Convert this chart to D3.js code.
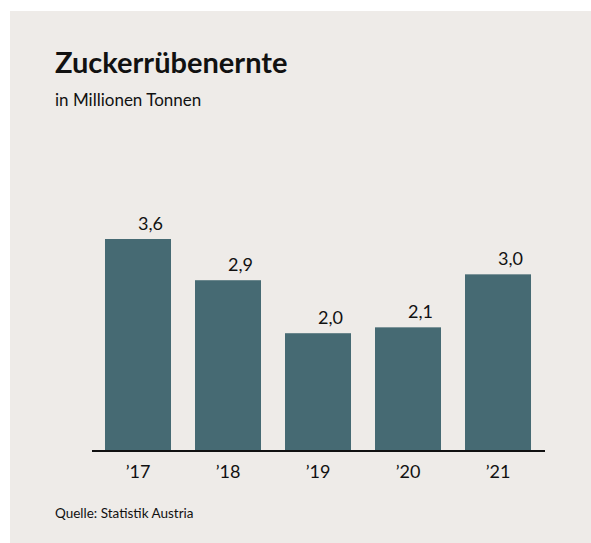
<!DOCTYPE html>
<html><head><meta charset="utf-8">
<script src="https://cdn.jsdelivr.net/npm/d3@7"></script>
<style>
html,body{margin:0;padding:0;background:#fff;}
svg{display:block;}
text{font-family:Lato,"Open Sans",sans-serif;fill:#111;}
</style></head>
<body>
<svg id="c" width="591" height="543"></svg>
<script>
const categories = ["’17","’18","’19","’20","’21"];
const values = [3.6, 2.9, 2.0, 2.1, 3.0];
const valueLabels = ["3,6","2,9","2,0","2,1","3,0"];
const title = "Zuckerrübenernte";
const subtitle = "in Millionen Tonnen";
const source = "Quelle: Statistik Austria";

const svg = d3.select("#c");
svg.append("rect").attr("x",10).attr("y",11).attr("width",581).attr("height",532).attr("fill","#eeebe8");

svg.append("text").attr("x",55).attr("y",73).attr("font-size",29).attr("font-weight",700).text(title);
svg.append("text").attr("x",55).attr("y",106).attr("font-size",17).text(subtitle);
svg.append("text").attr("x",55).attr("y",518).attr("font-size",13.5).text(source);

const x = d3.scaleBand().domain(categories).range([93,543]).paddingInner(24/90).paddingOuter(0.1333);
const y = d3.scaleLinear().domain([0,3.6]).range([451,239]);

const data = categories.map((c,i)=>({c, v:values[i], l:valueLabels[i]}));

svg.selectAll("rect.bar").data(data).join("rect").attr("class","bar")
  .attr("x",d=>x(d.c)).attr("width",x.bandwidth())
  .attr("y",d=>y(d.v)).attr("height",d=>y(0)-y(d.v))
  .attr("fill","#466a73");

svg.selectAll("text.val").data(data).join("text").attr("class","val")
  .attr("x",d=>x(d.c)+x.bandwidth()/2).attr("y",d=>y(d.v)-9)
  .attr("font-size",18).text(d=>d.l);

const ax = svg.append("g").attr("transform","translate(0,451)")
  .call(d3.axisBottom(x).tickSize(0).tickPadding(10));
ax.select(".domain").attr("stroke","#111").attr("stroke-width",2).attr("d","M92,0H545");
ax.selectAll("text").attr("font-size",18).attr("font-family","Lato,sans-serif").attr("fill","#111").attr("dy","0.95em");
</script>
</body></html>
